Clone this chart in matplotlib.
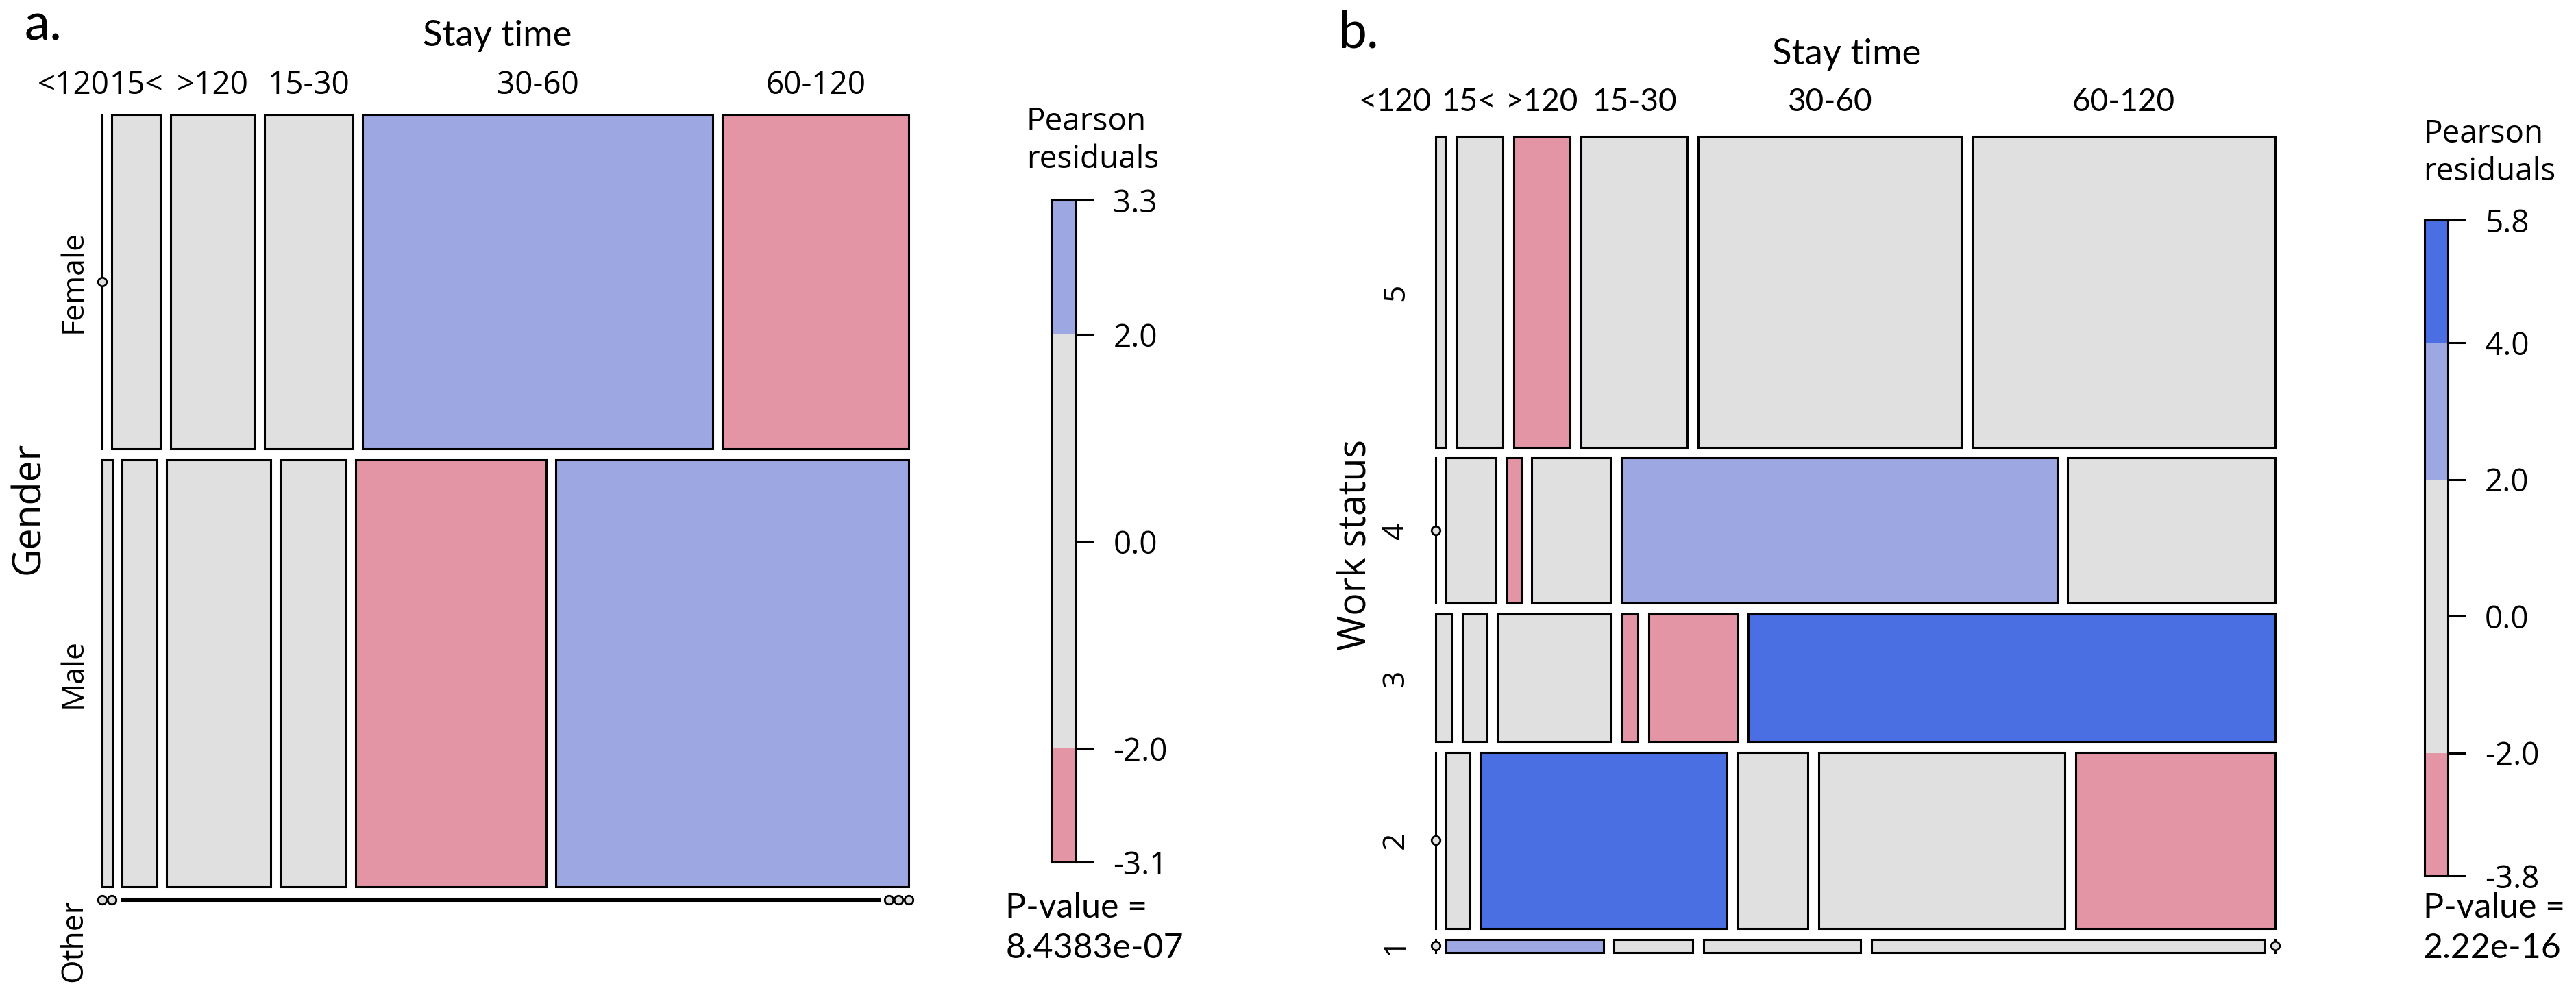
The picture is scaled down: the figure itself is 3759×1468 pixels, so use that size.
import numpy as np
import matplotlib
matplotlib.use("Agg")
import matplotlib.pyplot as plt
from matplotlib.patches import Rectangle
from matplotlib import transforms

# Data
stay_levels = ["<120", "15<", ">120", "15-30", "30-60", "60-120"]

# a. Gender x Stay time (counts estimated from tile sizes)
gender_levels = ["Female", "Male", "Other"]
gender_counts = [
    [0, 11, 19, 20, 79, 42],
    [3, 10, 30, 19, 55, 102],
    [0, 0, 1, 0, 0, 0],
]
gender_resid = [
    [0.0, 0.0, 0.0, 0.0, 3.3, -2.9],
    [0.0, 0.0, 0.0, 0.0, -3.1, 2.8],
    [0.0, 0.0, 0.0, 0.0, 0.0, 0.0],
]
gender_p = "8.4383e-07"

# b. Work status x Stay time
work_levels = ["5", "4", "3", "2", "1"]
work_counts = [
    [3, 14, 17, 32, 79, 91],
    [0, 7, 2, 11, 61, 29],
    [2, 3, 14, 2, 11, 65],
    [0, 4, 42, 12, 42, 34],
    [0, 2, 1, 2, 5, 0],
]
work_resid = [
    [0.0, 0.0, -2.3, 0.0, 0.0, 0.0],
    [0.0, 0.0, -2.1, 0.0, 2.9, 0.0],
    [0.0, 0.0, 0.0, -2.2, -3.0, 5.8],
    [0.0, 0.0, 4.6, 0.0, 0.0, -3.8],
    [0.0, 2.5, 0.0, 0.0, 0.0, 0.0],
]
work_p = "2.22e-16"

FONT_A = ["Open Sans", "DejaVu Sans"]
FONT_B = ["Lato", "DejaVu Sans"]
LW = 2.2


def shade(r):
    """vcd-like hcl shading by Pearson residual."""
    if r >= 4:
        return "#4A6FE3"
    if r >= 2:
        return "#9DA8E2"
    if r <= -4:
        return "#D33F6A"
    if r <= -2:
        return "#E495A5"
    return "#E0E0E0"


def draw_mosaic(ax, counts, resid, gx, gy):
    counts = np.asarray(counts, float)
    nr, nc = counts.shape
    row_tot = counts.sum(axis=1)
    heights = (1 - gy * (nr - 1)) * row_tot / row_tot.sum()
    top = 1.0
    col_centers = []
    row_centers = []
    for i in range(nr):
        h = heights[i]
        y0 = top - h
        widths = (1 - gx * (nc - 1)) * counts[i] / row_tot[i]
        x = 0.0
        xc = []
        for j in range(nc):
            w = widths[j]
            if counts[i, j] > 0:
                ax.add_patch(Rectangle((x, y0), w, h, facecolor=shade(resid[i][j]),
                                       edgecolor="black", lw=LW, clip_on=False))
            else:
                # empty cell: line plus small circle
                ax.plot([x, x], [y0, top], color="black", lw=LW, clip_on=False)
                ax.plot(x, y0 + h / 2, marker="o", ms=9, mfc="#E0E0E0",
                        mec="black", mew=2.0, clip_on=False, zorder=5)
            xc.append(x + w / 2)
            x += w + gx
        col_centers.append(xc)
        row_centers.append(y0 + h / 2)
        top = y0 - gy
    ax.set_xlim(0, 1)
    ax.set_ylim(0, 1)
    ax.axis("off")
    return col_centers[0], row_centers, heights / heights.sum()


def draw_legend(cax, resid):
    r = np.asarray(resid)
    lo, hi = r.min(), r.max()
    breaks = [lo] + [b for b in (-4, -2, 2, 4) if lo < b < hi] + [hi]
    for a, b in zip(breaks[:-1], breaks[1:]):
        cax.axhspan(a, b, color=shade((a + b) / 2), lw=0)
    ticks = [lo] + [b for b in (-4, -2, 0, 2, 4) if lo < b < hi] + [hi]
    cax.set_ylim(lo, hi)
    cax.set_yticks(ticks)
    cax.set_yticklabels([f"{t:.1f}" for t in ticks], fontfamily=FONT_A)
    cax.yaxis.tick_right()
    cax.set_xticks([])
    for s in cax.spines.values():
        s.set_linewidth(LW)
    cax.tick_params(axis="y", length=19, width=LW, pad=20, labelsize=33)


fig = plt.figure(figsize=(37.59, 14.68), dpi=100)

panels = [
    dict(rect=[0.0396, 0.1049, 0.3131, 0.7807], cbar=[0.4081, 0.143, 0.0096, 0.658],
         counts=gender_counts, resid=gender_resid, rows=gender_levels, pval=gender_p,
         tag="a.", tag_xy=(0.0096, 0.975), ylab="Gender", col_font=FONT_A, col_pad=0,
         gx=0.0122, gy=0.0146, title_off=115, col_off=43, row_off=41, ylab_off=106,
         leg_x=0.3985, leg_y=0.86, p_x=0.3903),
    dict(rect=[0.5573, 0.0531, 0.3259, 0.8113], cbar=[0.9412, 0.1294, 0.0090, 0.6519],
         counts=work_counts, resid=work_resid, rows=work_levels, pval=work_p,
         tag="b.", tag_xy=(0.5195, 0.967), ylab="Work status", col_font=FONT_B, col_pad=14,
         gx=0.0127, gy=0.013, title_off=120, col_off=50, row_off=58, ylab_off=117,
         leg_x=0.9407, leg_y=0.848, p_x=0.9407),
]

col_texts = []
for p in panels:
    ax = fig.add_axes(p["rect"])
    xc, yc, shares = draw_mosaic(ax, p["counts"], p["resid"], p["gx"], p["gy"])

    up = lambda d: transforms.offset_copy(
        transforms.blended_transform_factory(ax.transData, ax.transAxes),
        fig=fig, x=0, y=d, units="dots")
    ax.text(0.49, 1.0, "Stay time", transform=up(p["title_off"]), ha="center",
            va="center", fontsize=38, fontfamily=FONT_B)
    texts = [ax.text(x, 1.0, lab, transform=up(p["col_off"]), ha="center", va="center",
                     fontsize=33, fontfamily=p["col_font"])
             for x, lab in zip(xc, stay_levels)]
    col_texts.append((ax, texts, p["col_pad"]))

    left = lambda d: transforms.offset_copy(
        transforms.blended_transform_factory(ax.transAxes, ax.transData),
        fig=fig, x=-d, y=0, units="dots")
    for y, lab, s in zip(yc, p["rows"], shares):
        ax.text(0.0, y, lab, transform=left(p["row_off"]), rotation=90, ha="center",
                va="top" if s < 0.01 else "center", fontsize=32, fontfamily=FONT_A)
    ax.text(0.0, 0.5, p["ylab"], transform=transforms.offset_copy(
        ax.transAxes, fig=fig, x=-p["ylab_off"], y=0, units="dots"),
        rotation=90, ha="center", va="center", fontsize=40, fontfamily=FONT_A)

    fig.text(p["tag_xy"][0], p["tag_xy"][1], p["tag"], ha="left", va="center",
             fontsize=54, fontfamily=FONT_B)

    cax = fig.add_axes(p["cbar"])
    draw_legend(cax, p["resid"])
    fig.text(p["leg_x"], p["leg_y"], "Pearson\nresiduals", ha="left", va="center",
             fontsize=33, fontfamily=FONT_A, linespacing=1.25)
    fig.text(p["p_x"], 0.077, "P-value =\n" + p["pval"], ha="left", va="center",
             fontsize=36, fontfamily=FONT_B, linespacing=1.35)

# push overlapping column labels to the left
fig.canvas.draw()
renderer = fig.canvas.get_renderer()
for ax, texts, pad in col_texts:
    width_px = ax.get_window_extent(renderer).width
    for k in range(len(texts) - 2, -1, -1):
        b = texts[k].get_window_extent(renderer)
        nb = texts[k + 1].get_window_extent(renderer)
        over = b.x1 - (nb.x0 - pad)
        if over > 0:
            texts[k].set_x(texts[k].get_position()[0] - over / width_px)

fig.savefig("out.png", dpi=100)
